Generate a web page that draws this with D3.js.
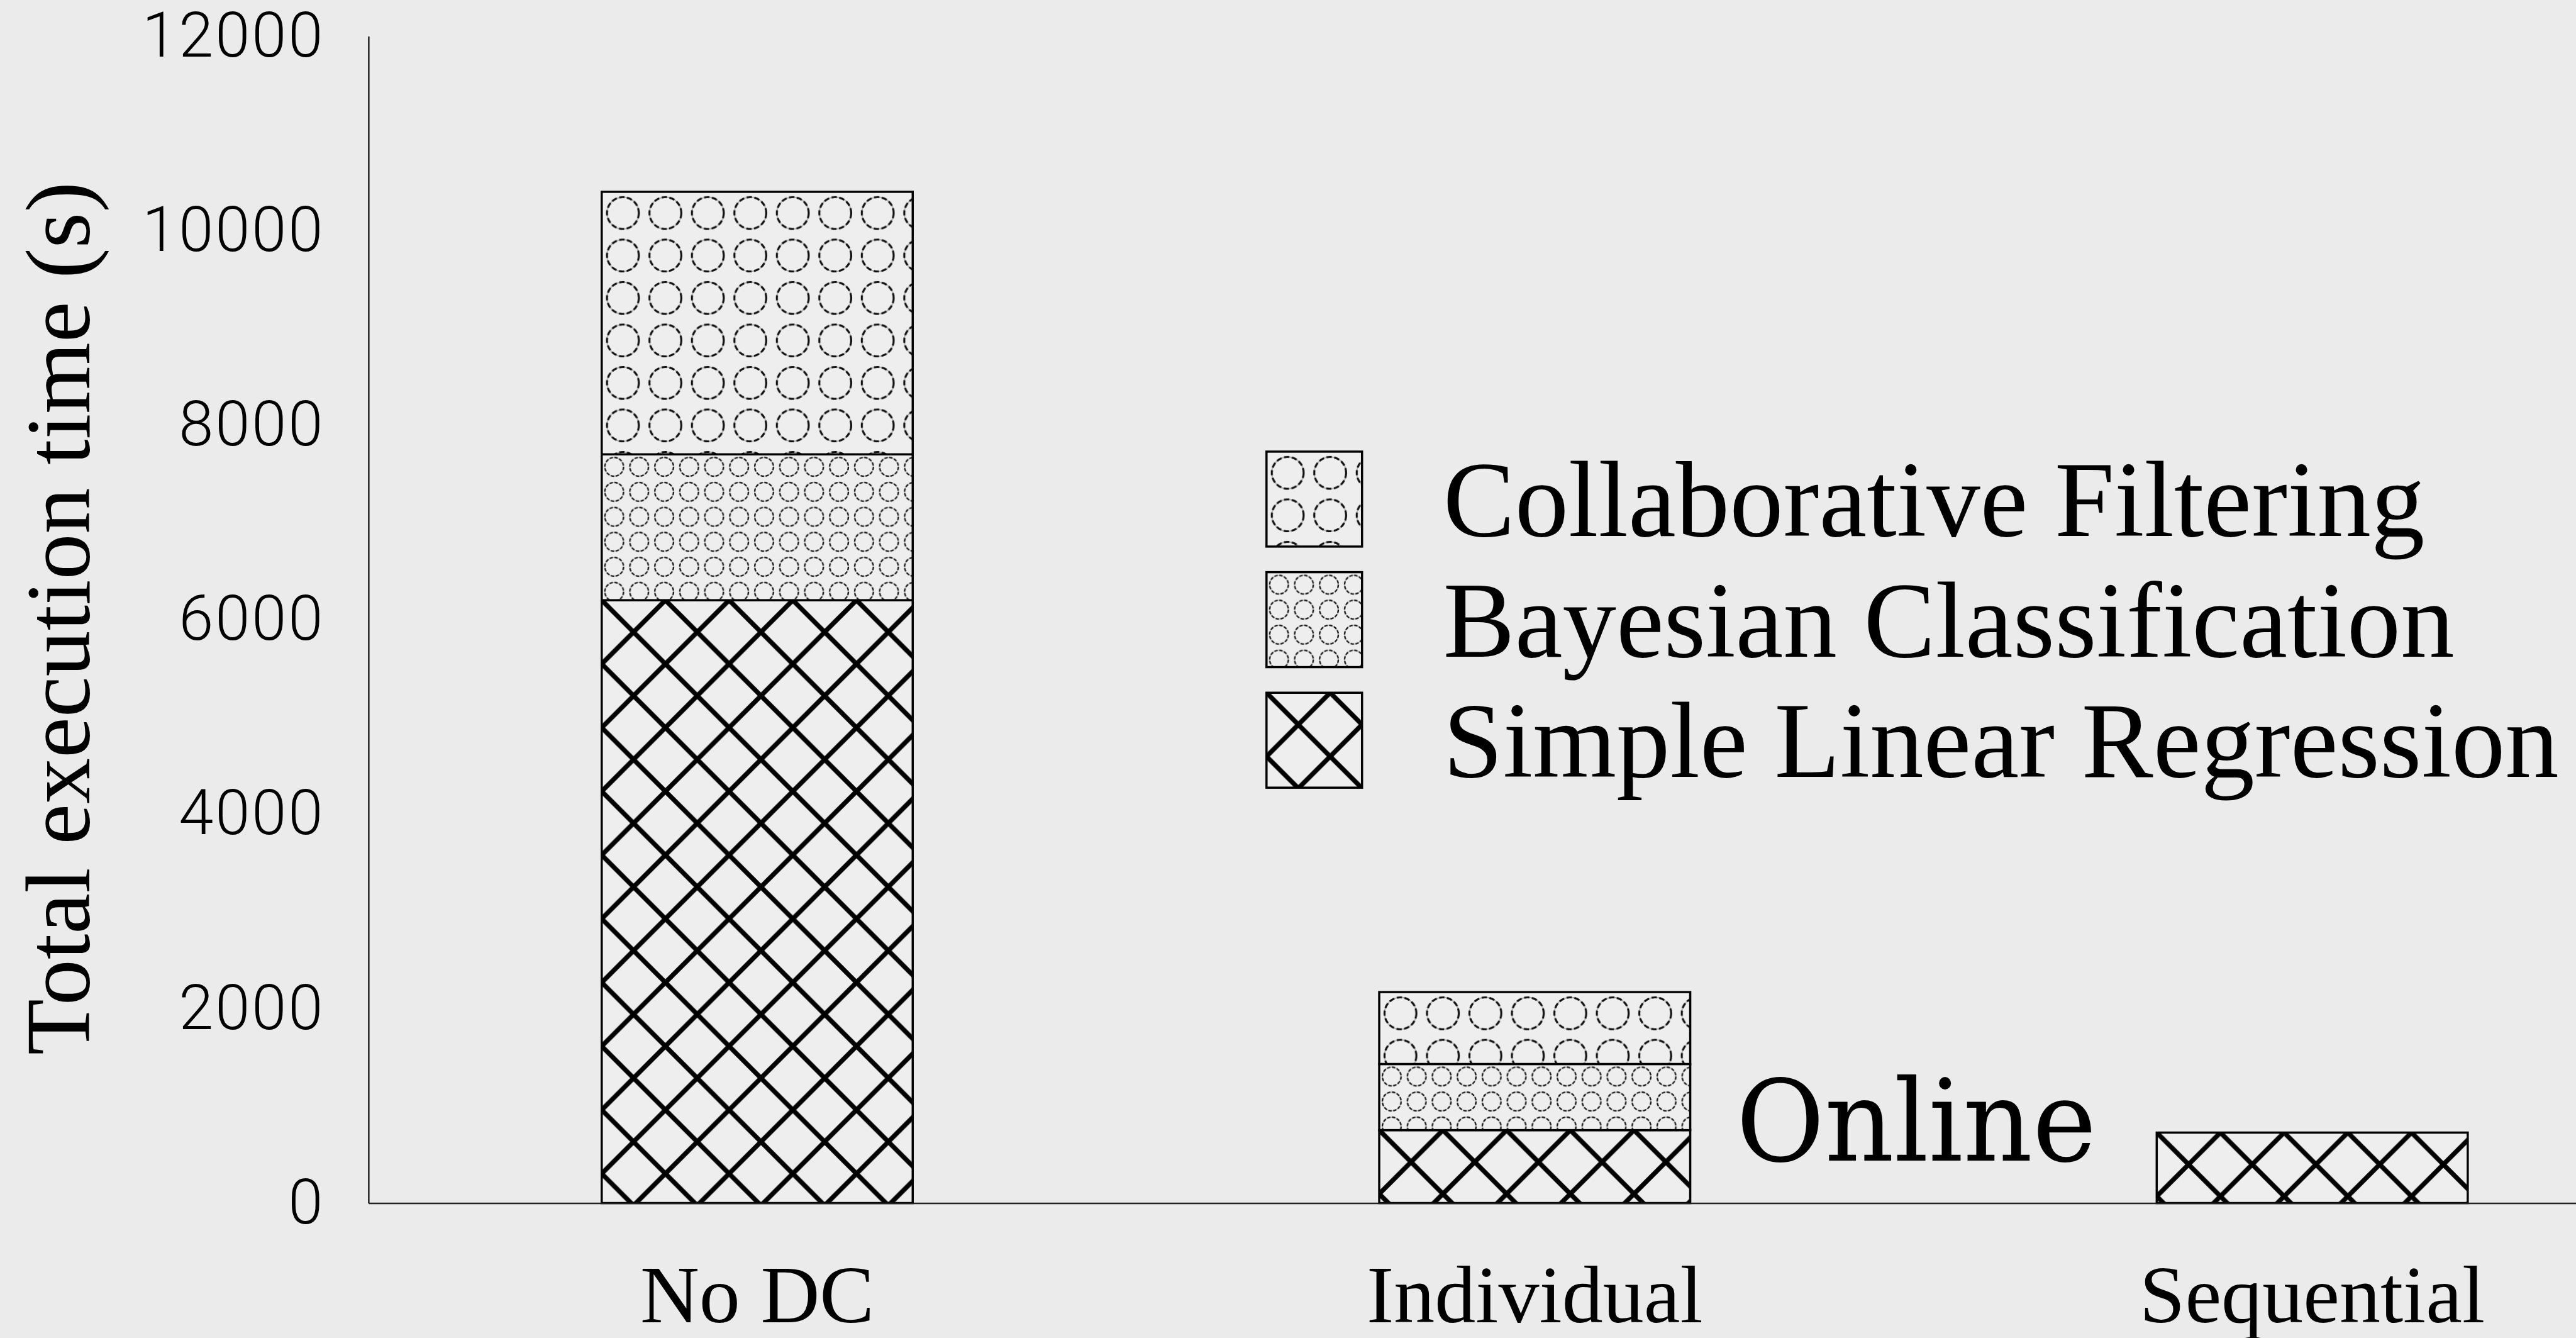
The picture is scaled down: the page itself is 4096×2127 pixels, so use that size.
<!DOCTYPE html>
<html>
<head>
<meta charset="utf-8">
<script src="https://cdn.jsdelivr.net/npm/d3@7"></script>
<style>
  html, body { margin: 0; padding: 0; background: #ebebeb; overflow: hidden; }
  svg { display: block; }
</style>
</head>
<body>
<svg id="chart" width="4096" height="2127"></svg>
<script>
// data
var categories = ["No DC", "Individual", "Sequential"];
var seriesNames = ["Simple Linear Regression", "Bayesian Classification", "Collaborative Filtering"];
var slrValues = [6200, 750, 725];
var bayesValues = [1500, 680, 0];
var cfValues = [2700, 740, 0];
var yTicks = [0, 2000, 4000, 6000, 8000, 10000, 12000];
var legendOrder = ["Collaborative Filtering", "Bayesian Classification", "Simple Linear Regression"];

var rows = categories.map(function(c, i) {
  return {
    category: c,
    "Simple Linear Regression": slrValues[i],
    "Bayesian Classification": bayesValues[i],
    "Collaborative Filtering": cfValues[i]
  };
});

var svg = d3.select("#chart");
var defs = svg.append("defs");
// everything is laid out in reference pixels, then scaled to the window
var g = svg.append("g").attr("transform", "scale(0.993)");

g.append("rect").attr("width", 4200).attr("height", 2200).attr("fill", "#ebebeb");

var x = d3.scaleBand()
  .domain(categories)
  .range([590, 4325])
  .paddingInner(0.6)
  .paddingOuter(0.3);

var y = d3.scaleLinear()
  .domain([0, 12000])
  .range([1926, 58]);

// patterns, anchored at the top-left corner of each box
var patternId = 0;
function makePattern(name, px, py) {
  var id = "pat" + (patternId++);
  var p = defs.append("pattern")
    .attr("id", id)
    .attr("patternUnits", "userSpaceOnUse")
    .attr("x", px).attr("y", py);
  p.append("rect").attr("fill", "#eeeeee");
  if (name === "Collaborative Filtering") {
    p.attr("width", 68).attr("height", 68);
    p.select("rect").attr("width", 68).attr("height", 68);
    p.append("circle").attr("cx", 34).attr("cy", 34).attr("r", 25.5)
      .attr("fill", "none").attr("stroke", "#a8a8a8").attr("stroke-width", 1.8);
    p.append("circle").attr("cx", 34).attr("cy", 34).attr("r", 25.5)
      .attr("fill", "none").attr("stroke", "#111").attr("stroke-width", 3.2)
      .attr("stroke-dasharray", "8.5,4.1");
  } else if (name === "Bayesian Classification") {
    p.attr("width", 40).attr("height", 40);
    p.select("rect").attr("width", 40).attr("height", 40);
    p.append("circle").attr("cx", 20).attr("cy", 20).attr("r", 15)
      .attr("fill", "none").attr("stroke", "#b0b0b0").attr("stroke-width", 1.4);
    p.append("circle").attr("cx", 20).attr("cy", 20).attr("r", 15)
      .attr("fill", "none").attr("stroke", "#1c1c1c").attr("stroke-width", 2.4)
      .attr("stroke-dasharray", "5.2,2.65");
  } else {
    p.attr("width", 102).attr("height", 102);
    p.select("rect").attr("width", 102).attr("height", 102);
    p.append("path").attr("d", "M0,0L102,102M102,0L0,102")
      .attr("stroke", "#000").attr("stroke-width", 7.5).attr("fill", "none");
  }
  return "url(#" + id + ")";
}

// stacked bars
var stacked = d3.stack().keys(seriesNames)(rows);

stacked.forEach(function(layer) {
  layer.forEach(function(d) {
    if (d[1] - d[0] <= 0) return;
    var bx = x(d.data.category);
    var top = y(d[1]);
    g.append("rect")
      .attr("x", bx)
      .attr("y", top)
      .attr("width", x.bandwidth())
      .attr("height", y(d[0]) - top)
      .attr("fill", makePattern(layer.key, bx, top))
      .attr("stroke", "#000")
      .attr("stroke-width", 3.5);
  });
});

// axes
var yAxis = g.append("g")
  .attr("transform", "translate(590,0)")
  .call(d3.axisLeft(y).tickValues(yTicks).tickFormat(d3.format("d"))
    .tickSize(0).tickSizeOuter(0).tickPadding(70));
yAxis.select(".domain").attr("stroke", "#222").attr("stroke-width", 2.5);
yAxis.selectAll("text")
  .attr("font-family", "Roboto, 'Open Sans', sans-serif")
  .attr("font-weight", 300)
  .attr("font-size", 100)
  .attr("letter-spacing", 3)
  .attr("fill", "#000");

var xAxis = g.append("g")
  .attr("transform", "translate(0,1926)")
  .call(d3.axisBottom(x).tickSize(0).tickSizeOuter(0).tickPadding(98));
xAxis.select(".domain").attr("stroke", "#222").attr("stroke-width", 2.5);
xAxis.selectAll("text")
  .attr("font-family", "'Liberation Serif', 'Times New Roman', serif")
  .attr("font-size", 131)
  .attr("fill", "#000");

// y axis title
g.append("text")
  .attr("transform", "translate(143,990) rotate(-90)")
  .attr("text-anchor", "middle")
  .attr("font-family", "'Liberation Serif', 'Times New Roman', serif")
  .attr("font-size", 147)
  .attr("fill", "#000")
  .text("Total execution time (s)");

// legend
legendOrder.forEach(function(name, i) {
  var ly = 723 + i * 193;
  g.append("rect")
    .attr("x", 2028).attr("y", ly)
    .attr("width", 153).attr("height", 152)
    .attr("fill", makePattern(name, 2028, ly))
    .attr("stroke", "#000").attr("stroke-width", 3.5);
  g.append("text")
    .attr("x", 2311).attr("y", ly + 135)
    .attr("font-family", "'Liberation Serif', 'Times New Roman', serif")
    .attr("font-size", 172)
    .attr("fill", "#000")
    .text(name);
});

// annotation
g.append("text")
  .attr("x", 2780).attr("y", 1858)
  .attr("font-family", "'DejaVu Serif', serif")
  .attr("font-size", 182)
  .attr("textLength", 577)
  .attr("lengthAdjust", "spacingAndGlyphs")
  .attr("fill", "#000")
  .text("Online");
</script>
</body>
</html>
